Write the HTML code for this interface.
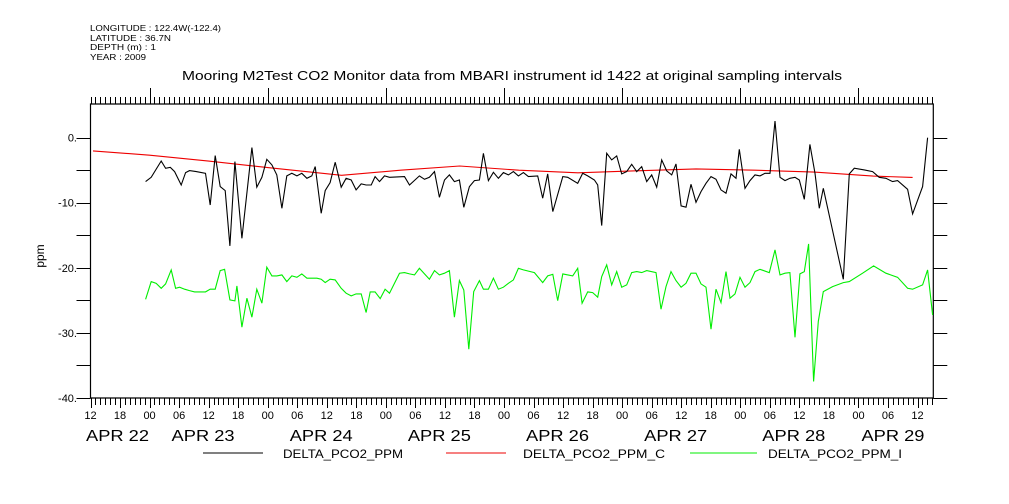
<!DOCTYPE html>
<html><head><meta charset="utf-8"><style>
html,body{margin:0;padding:0;background:#fff;}
svg{display:block;font-family:"Liberation Sans",sans-serif;}
</style></head><body>
<svg id="chart" width="1009" height="504" viewBox="0 0 1009 504" xmlns="http://www.w3.org/2000/svg">
<g font-size="8.5" fill="#000">
<text x="90" y="31" textLength="131" lengthAdjust="spacingAndGlyphs">LONGITUDE : 122.4W(-122.4)</text>
<text x="90" y="41" textLength="81" lengthAdjust="spacingAndGlyphs">LATITUDE : 36.7N</text>
<text x="90" y="50" textLength="66" lengthAdjust="spacingAndGlyphs">DEPTH (m) : 1</text>
<text x="90" y="60" textLength="56" lengthAdjust="spacingAndGlyphs">YEAR : 2009</text>
</g>
<text x="182" y="80" font-size="12.5" textLength="660" lengthAdjust="spacingAndGlyphs">Mooring M2Test CO2 Monitor data from MBARI instrument id 1422 at original sampling intervals</text>
<text x="44" y="256" font-size="12" text-anchor="middle" transform="rotate(-90 44 256)">ppm</text>
<g id="axes"></g>
<g id="series"></g>
<g font-size="12">
<line x1="203" y1="453" x2="263" y2="453" stroke="#000"/>
<text x="283" y="458" textLength="120" lengthAdjust="spacingAndGlyphs">DELTA_PCO2_PPM</text>
<line x1="446" y1="453" x2="506" y2="453" stroke="#e00"/>
<text x="523" y="458" textLength="142" lengthAdjust="spacingAndGlyphs">DELTA_PCO2_PPM_C</text>
<line x1="690" y1="453" x2="757" y2="453" stroke="#0e0"/>
<text x="768" y="458" textLength="134" lengthAdjust="spacingAndGlyphs">DELTA_PCO2_PPM_I</text>
</g>
</svg>
<script>
// hours relative to APR 23 00:00
const blackHours=[-0.81,0.34,2.37,3.25,4.20,5.08,6.43,7.31,8.12,9.48,11.37,12.32,13.33,14.35,15.36,16.31,17.33,18.75,20.78,21.79,22.81,23.82,24.84,25.85,26.87,27.88,28.90,29.92,30.93,31.95,32.96,33.64,34.86,35.67,36.68,37.70,38.92,39.93,40.95,41.96,42.98,43.99,45.01,45.82,46.70,47.72,48.73,51.78,52.79,54.82,55.84,56.85,57.87,58.88,59.90,60.91,61.93,62.94,63.82,64.97,65.99,67.00,67.82,68.83,69.85,70.86,71.88,72.89,73.91,74.92,75.94,76.95,78.85,79.86,80.88,81.90,83.93,84.94,86.97,87.99,89.00,90.36,91.03,91.84,92.86,93.88,94.89,95.91,96.92,97.94,98.95,99.97,100.98,102.00,103.01,104.03,105.04,106.06,106.94,107.96,108.97,109.99,111.00,112.02,113.03,114.04,115.06,116.07,117.09,118.10,119.12,119.80,120.95,121.96,122.98,123.99,125.01,126.02,127.04,128.05,129.07,130.08,131.10,131.98,132.99,134.14,135.16,136.04,136.85,140.91,142.13,143.15,145.18,146.87,148.22,149.58,150.93,151.95,153.98,154.99,157.02,158.04];
const blackValues=[-6.75,-6.09,-3.58,-4.71,-4.55,-5.22,-7.27,-5.37,-5.06,-5.22,-5.47,-10.34,-2.76,-7.52,-8.14,-16.63,-3.68,-15.46,-1.53,-7.62,-6.09,-3.32,-4.19,-5.73,-10.85,-5.88,-5.47,-5.88,-5.47,-6.24,-5.88,-4.45,-11.62,-8.14,-6.91,-3.78,-7.62,-6.24,-6.50,-8.03,-7.11,-7.27,-7.27,-5.99,-6.75,-5.88,-6.09,-5.99,-7.27,-5.88,-6.40,-6.09,-5.22,-9.16,-6.50,-5.73,-6.75,-6.50,-10.70,-7.52,-6.60,-6.50,-2.40,-6.60,-5.32,-6.24,-5.37,-5.73,-5.22,-5.88,-5.37,-5.99,-5.88,-9.31,-5.57,-11.36,-5.99,-6.09,-7.01,-5.47,-5.88,-6.50,-7.27,-13.51,-2.40,-3.42,-2.81,-5.57,-5.22,-4.09,-5.22,-4.45,-6.75,-5.73,-7.62,-3.42,-5.11,-5.73,-4.04,-10.49,-10.69,-7.16,-9.93,-8.29,-7.01,-5.99,-6.40,-8.03,-8.54,-5.57,-6.24,-1.79,-7.78,-6.60,-5.73,-5.88,-5.47,-5.47,2.56,-6.09,-6.60,-6.24,-6.09,-6.50,-9.47,-1.04,-5.47,-10.85,-7.78,-21.76,-5.57,-4.70,-4.96,-5.22,-6.09,-6.24,-6.75,-6.60,-7.93,-11.72,-7.52,0.0];
const redHours=[-11.5,0,12,24,39,51,63,75,87,99,111,123,135,147,155];
const redValues=[-2.04,-2.7,-3.6,-4.6,-5.78,-5.0,-4.35,-5.0,-5.4,-5.1,-4.8,-5.0,-5.3,-5.9,-6.1];
const greenHours=[-0.81,0.34,1.35,2.37,3.25,4.40,5.28,6.09,7.11,8.12,9.14,11.37,12.32,13.33,14.35,15.23,16.31,17.33,17.73,18.75,19.76,20.78,21.79,22.81,23.82,24.84,25.85,26.87,27.88,28.90,29.92,30.93,31.95,32.96,33.98,34.86,35.67,36.68,37.70,38.92,39.93,40.95,41.96,42.98,43.99,44.81,45.82,46.84,47.85,48.73,49.75,50.76,51.78,52.79,53.81,54.82,55.84,56.85,57.87,58.88,59.90,60.91,61.93,62.94,63.82,64.84,65.85,67.00,67.82,68.83,69.85,70.86,71.88,72.89,73.91,74.92,75.94,78.17,79.86,80.88,81.90,82.91,83.93,85.96,86.97,87.85,89.00,90.02,91.03,91.84,92.86,93.88,94.89,95.91,96.92,97.94,98.95,99.97,100.98,102.88,103.89,104.91,105.92,106.94,107.96,108.97,109.99,111.00,112.02,113.03,114.04,115.06,116.07,117.09,117.90,118.92,119.93,120.95,121.96,122.98,123.99,125.89,127.04,128.05,129.07,130.08,131.10,132.11,132.99,133.87,134.89,135.84,136.85,138.75,140.91,142.13,144.84,147.08,149.58,151.95,153.98,154.99,157.02,158.04,159.05];
const greenValues=[-24.83,-22.11,-22.37,-23.14,-22.47,-20.32,-23.14,-22.98,-23.29,-23.50,-23.70,-23.70,-23.29,-23.29,-20.42,-20.22,-24.93,-25.08,-22.78,-29.13,-24.67,-27.59,-23.29,-25.44,-19.91,-21.24,-21.24,-21.09,-22.11,-21.24,-21.45,-20.94,-21.60,-21.60,-21.60,-21.75,-22.27,-21.75,-21.86,-23.14,-23.90,-24.31,-24.00,-24.00,-26.87,-23.70,-23.70,-24.73,-23.29,-23.90,-22.37,-20.83,-20.73,-20.94,-21.09,-20.07,-20.94,-21.75,-20.42,-21.09,-20.83,-20.42,-27.59,-21.96,-23.40,-32.51,-23.65,-21.96,-23.29,-23.29,-21.60,-23.29,-22.98,-22.37,-21.86,-20.07,-20.32,-20.73,-22.27,-21.24,-20.99,-25.03,-20.94,-21.24,-20.07,-25.44,-23.70,-23.80,-24.52,-21.35,-19.55,-22.62,-20.58,-22.98,-22.62,-20.73,-20.58,-20.73,-20.42,-20.73,-26.36,-22.88,-20.58,-21.96,-22.98,-22.37,-20.83,-20.83,-22.47,-22.98,-29.43,-23.29,-25.34,-20.58,-24.67,-24.00,-21.45,-22.98,-22.27,-20.58,-20.22,-20.73,-17.25,-21.09,-20.83,-20.73,-30.67,-20.94,-20.58,-16.33,-37.47,-28.25,-23.65,-22.88,-22.27,-22.11,-20.83,-19.70,-20.83,-21.45,-23.14,-23.29,-22.62,-20.32,-27.24];
const yTickValues=[0,-10,-20,-30,-40];
const yTickLabels=["0.","-10.","-20.","-30.","-40."];
const hourTickLabels=["12","18","00","06","12","18","00","06","12","18","00","06","12","18","00","06","12","18","00","06","12","18","00","06","12","18","00","06","12"];
const dayLabels=["APR 22","APR 23","APR 24","APR 25","APR 26","APR 27","APR 28","APR 29"];

const L=90.5,R=933.3,T=104,B=398;
const H0=-12,H1=159.2,V0=-40,V1=5.17;
const xs=h=>L+(h-H0)/(H1-H0)*(R-L);
const ys=v=>B-(v-V0)/(V1-V0)*(B-T);
const NS="http://www.w3.org/2000/svg";
function mk(tag,attrs,parent){const e=document.createElementNS(NS,tag);for(const k in attrs)e.setAttribute(k,attrs[k]);parent.appendChild(e);return e;}
const axes=document.getElementById('axes');
const series=document.getElementById('series');
let frame=mk('path',{d:`M${L},${T}H${R}V${B}H${L}Z`,fill:'none',stroke:'#000','stroke-width':1.2},axes);


let tp='';
for(let h=H0;h<=H1;h++){
  const x=Math.round(xs(h))+0.5;
  const major=((h%24)+24)%24===0;
  const six=((h%6)+6)%6===0;
  tp+=`M${x},${T}V${T-(major?16:7)}M${x},${B}V${B+(six?10:7)}`;
}
let xt=mk('path',{d:tp,stroke:'#000','stroke-width':1,fill:'none'},axes);


hourTickLabels.forEach((lab,i)=>{
  const t=mk('text',{x:xs(H0+i*6),y:419,'font-size':11,'text-anchor':'middle'},axes);
  t.textContent=lab;
  
  
});
dayLabels.forEach((lab,i)=>{
  let x=i===0?86:xs((i-1)*24)+22;
  if(x+63>R-8) x=xs((i-1)*24)+3;
  const t=mk('text',{x:x,y:441,'font-size':16,textLength:63,lengthAdjust:'spacingAndGlyphs'},axes);
  t.textContent=lab;
  
  
});
let yp='';
for(let v=V0;v<=0;v+=5){const y=Math.round(ys(v))+0.5;yp+=`M${L},${y}H${L-14}M${R},${y}H${R+14}`;}
let yt=mk('path',{d:yp,stroke:'#000','stroke-width':1,fill:'none'},axes);


yTickValues.forEach((v,i)=>{
  const t=mk('text',{x:77,y:ys(v)+4,'font-size':11,'text-anchor':'end'},axes);
  t.textContent=yTickLabels[i];
  
  
});
function line(hs,vs,color,name){
  const d=hs.map((h,i)=>(i?'L':'M')+xs(h).toFixed(1)+','+ys(vs[i]).toFixed(1)).join('');
  const p=mk('path',{d:d,fill:'none',stroke:color,'stroke-width':1.1,'stroke-linejoin':'miter'},series);
  
  
}
line(greenHours,greenValues,'#00ee00','series-delta-pco2-ppm-i');
line(redHours,redValues,'#ee0000','series-delta-pco2-ppm-c');
line(blackHours,blackValues,'#000','series-delta-pco2-ppm');
</script>
</body></html>
